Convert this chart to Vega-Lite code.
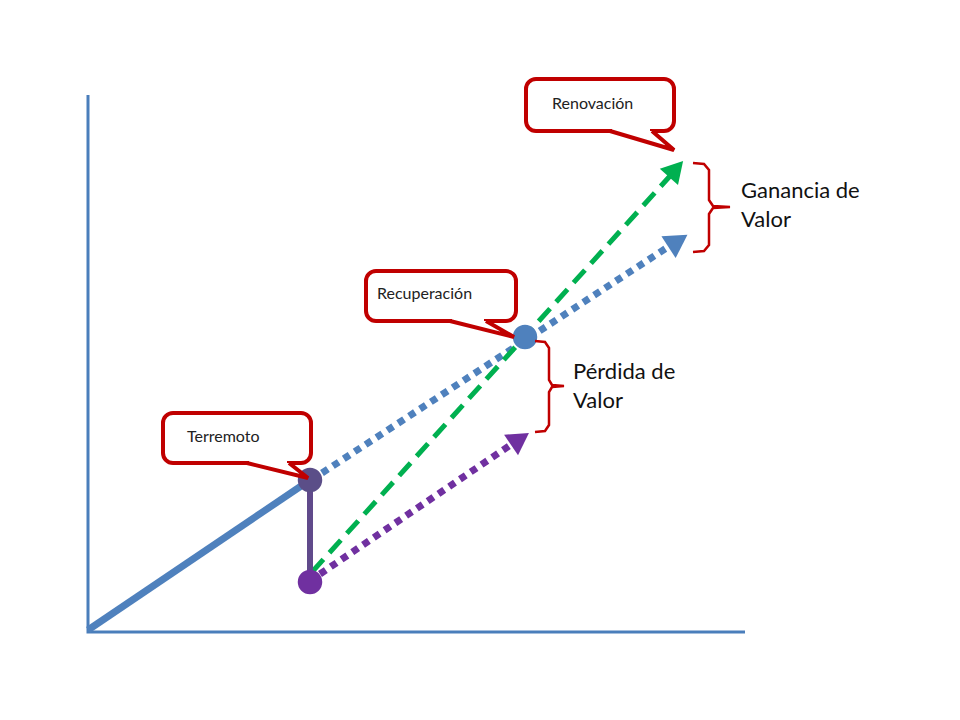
{
  "$schema": "https://vega.github.io/schema/vega-lite/v6.json",
  "width": 960,
  "height": 720,
  "autosize": {"type": "fit", "contains": "padding"},
  "padding": 0,
  "background": "white",
  "config": {"view": {"stroke": null}, "font": "Lato"},
  "datasets": {
    "ejes": [
      {"i": 0, "x": 88, "y": 95},
      {"i": 1, "x": 88, "y": 632},
      {"i": 2, "x": 745, "y": 632}
    ],
    "tramos": [
      {"serie": "base", "i": 0, "x": 88, "y": 630},
      {"serie": "base", "i": 1, "x": 310, "y": 480},
      {"serie": "caida", "i": 0, "x": 310, "y": 480},
      {"serie": "caida", "i": 1, "x": 310, "y": 580},
      {"serie": "sin_mejora", "i": 0, "x": 322, "y": 473},
      {"serie": "sin_mejora", "i": 1, "x": 668, "y": 247},
      {"serie": "mejora", "i": 0, "x": 312, "y": 572},
      {"serie": "mejora", "i": 1, "x": 670, "y": 176},
      {"serie": "perdida", "i": 0, "x": 320, "y": 574},
      {"serie": "perdida", "i": 1, "x": 512, "y": 444}
    ],
    "flechas": [
      {"serie": "sin_mejora", "x": 678, "y": 241},
      {"serie": "mejora", "x": 676, "y": 169},
      {"serie": "perdida", "x": 520, "y": 439}
    ],
    "puntos": [
      {"punto": "terremoto", "x": 310, "y": 480},
      {"punto": "caida", "x": 310, "y": 582},
      {"punto": "recuperacion", "x": 525, "y": 337}
    ],
    "cajas": [
      {"texto": "Terremoto", "x": 163, "x2": 311, "y": 413, "y2": 463, "tx": 187, "ty": 437},
      {"texto": "Recuperación", "x": 366, "x2": 516, "y": 271, "y2": 321, "tx": 377, "ty": 294},
      {"texto": "Renovación", "x": 526, "x2": 674, "y": 79, "y2": 131, "tx": 552, "ty": 104}
    ],
    "huecos": [
      {"x": 249, "x2": 287, "y": 461, "y2": 465.5},
      {"x": 452, "x2": 484, "y": 319, "y2": 323.5},
      {"x": 612, "x2": 650, "y": 129, "y2": 133.5}
    ],
    "colas": [
      {"c": "t", "i": 0, "x": 247, "y": 463},
      {"c": "t", "i": 1, "x": 308, "y": 478},
      {"c": "t", "i": 2, "x": 289, "y": 463},
      {"c": "r", "i": 0, "x": 450, "y": 321},
      {"c": "r", "i": 1, "x": 514, "y": 337},
      {"c": "r", "i": 2, "x": 486, "y": 321},
      {"c": "n", "i": 0, "x": 610, "y": 131},
      {"c": "n", "i": 1, "x": 674, "y": 150},
      {"c": "n", "i": 2, "x": 652, "y": 131}
    ],
    "llaves": [
      {"b": "g", "i": 0, "x": 693, "y": 163},
      {"b": "g", "i": 1, "x": 704, "y": 164},
      {"b": "g", "i": 2, "x": 709, "y": 170},
      {"b": "g", "i": 3, "x": 709, "y": 200},
      {"b": "g", "i": 4, "x": 713, "y": 206},
      {"b": "g", "i": 5, "x": 730, "y": 207},
      {"b": "g", "i": 6, "x": 713, "y": 208},
      {"b": "g", "i": 7, "x": 709, "y": 214},
      {"b": "g", "i": 8, "x": 709, "y": 245},
      {"b": "g", "i": 9, "x": 704, "y": 251},
      {"b": "g", "i": 10, "x": 693, "y": 252},
      {"b": "p", "i": 0, "x": 535, "y": 341},
      {"b": "p", "i": 1, "x": 545, "y": 342},
      {"b": "p", "i": 2, "x": 549, "y": 348},
      {"b": "p", "i": 3, "x": 549, "y": 380},
      {"b": "p", "i": 4, "x": 552, "y": 385},
      {"b": "p", "i": 5, "x": 564, "y": 386},
      {"b": "p", "i": 6, "x": 552, "y": 387},
      {"b": "p", "i": 7, "x": 549, "y": 392},
      {"b": "p", "i": 8, "x": 549, "y": 425},
      {"b": "p", "i": 9, "x": 545, "y": 431},
      {"b": "p", "i": 10, "x": 535, "y": 432}
    ],
    "etiquetas": [
      {"texto": "Ganancia de", "x": 741, "y": 191},
      {"texto": "Valor", "x": 741, "y": 220},
      {"texto": "Pérdida de", "x": 573, "y": 372},
      {"texto": "Valor", "x": 573, "y": 401}
    ]
  },
  "encoding": {
    "x": {"field": "x", "type": "quantitative", "axis": null, "scale": {"domain": [0, 960], "nice": false, "zero": false}},
    "y": {"field": "y", "type": "quantitative", "axis": null, "scale": {"domain": [0, 720], "nice": false, "zero": false, "reverse": true}}
  },
  "layer": [
    {
      "data": {"name": "ejes"},
      "mark": {"type": "line", "color": "#4a7ebb", "strokeWidth": 3},
      "encoding": {"order": {"field": "i"}}
    },
    {
      "data": {"name": "tramos"},
      "transform": [{"filter": "datum.serie == 'base'"}],
      "mark": {"type": "line", "color": "#4f81bd", "strokeWidth": 7},
      "encoding": {"order": {"field": "i"}}
    },
    {
      "data": {"name": "tramos"},
      "transform": [{"filter": "datum.serie == 'sin_mejora'"}],
      "mark": {"type": "line", "color": "#4f81bd", "strokeWidth": 7, "strokeDash": [7, 6]},
      "encoding": {"order": {"field": "i"}}
    },
    {
      "data": {"name": "tramos"},
      "transform": [{"filter": "datum.serie == 'mejora'"}],
      "mark": {"type": "line", "color": "#00b050", "strokeWidth": 5, "strokeDash": [17, 9]},
      "encoding": {"order": {"field": "i"}}
    },
    {
      "data": {"name": "tramos"},
      "transform": [{"filter": "datum.serie == 'perdida'"}],
      "mark": {"type": "line", "color": "#7030a0", "strokeWidth": 7, "strokeDash": [7, 6]},
      "encoding": {"order": {"field": "i"}}
    },
    {
      "data": {"name": "tramos"},
      "transform": [{"filter": "datum.serie == 'caida'"}],
      "mark": {"type": "line", "color": "#604a8b", "strokeWidth": 6},
      "encoding": {"order": {"field": "i"}}
    },
    {
      "data": {"name": "flechas"},
      "transform": [{"filter": "datum.serie == 'sin_mejora'"}],
      "mark": {"type": "point", "shape": "triangle-up", "filled": true, "opacity": 1, "color": "#4f81bd", "size": 680, "angle": 57}
    },
    {
      "data": {"name": "flechas"},
      "transform": [{"filter": "datum.serie == 'mejora'"}],
      "mark": {"type": "point", "shape": "triangle-up", "filled": true, "opacity": 1, "color": "#00b050", "size": 600, "angle": 42}
    },
    {
      "data": {"name": "flechas"},
      "transform": [{"filter": "datum.serie == 'perdida'"}],
      "mark": {"type": "point", "shape": "triangle-up", "filled": true, "opacity": 1, "color": "#7030a0", "size": 620, "angle": 56}
    },
    {
      "data": {"name": "puntos"},
      "mark": {"type": "circle", "opacity": 1, "size": 600},
      "encoding": {
        "color": {
          "field": "punto",
          "type": "nominal",
          "legend": null,
          "scale": {"domain": ["terremoto", "caida", "recuperacion"], "range": ["#5b4e88", "#7030a0", "#4f81bd"]}
        }
      }
    },
    {
      "data": {"name": "cajas"},
      "mark": {"type": "rect", "fill": "white", "stroke": "#c00000", "strokeWidth": 4, "cornerRadius": 10},
      "encoding": {"x2": {"field": "x2"}, "y2": {"field": "y2"}}
    },
    {
      "data": {"name": "huecos"},
      "mark": {"type": "rect", "fill": "white", "strokeWidth": 0},
      "encoding": {"x2": {"field": "x2"}, "y2": {"field": "y2"}}
    },
    {
      "data": {"name": "colas"},
      "mark": {"type": "line", "stroke": "#c00000", "fill": "white", "strokeWidth": 4, "strokeJoin": "miter"},
      "encoding": {"detail": {"field": "c"}, "order": {"field": "i"}}
    },
    {
      "data": {"name": "llaves"},
      "mark": {"type": "line", "color": "#c00000", "strokeWidth": 2.5},
      "encoding": {"detail": {"field": "b"}, "order": {"field": "i"}}
    },
    {
      "data": {"name": "cajas"},
      "mark": {"type": "text", "align": "left", "baseline": "middle", "fontSize": 16, "color": "#222222"},
      "encoding": {"x": {"field": "tx", "type": "quantitative"}, "y": {"field": "ty", "type": "quantitative"}, "text": {"field": "texto"}}
    },
    {
      "data": {"name": "etiquetas"},
      "mark": {"type": "text", "align": "left", "baseline": "middle", "fontSize": 22, "color": "#111111"},
      "encoding": {"text": {"field": "texto"}}
    }
  ]
}
